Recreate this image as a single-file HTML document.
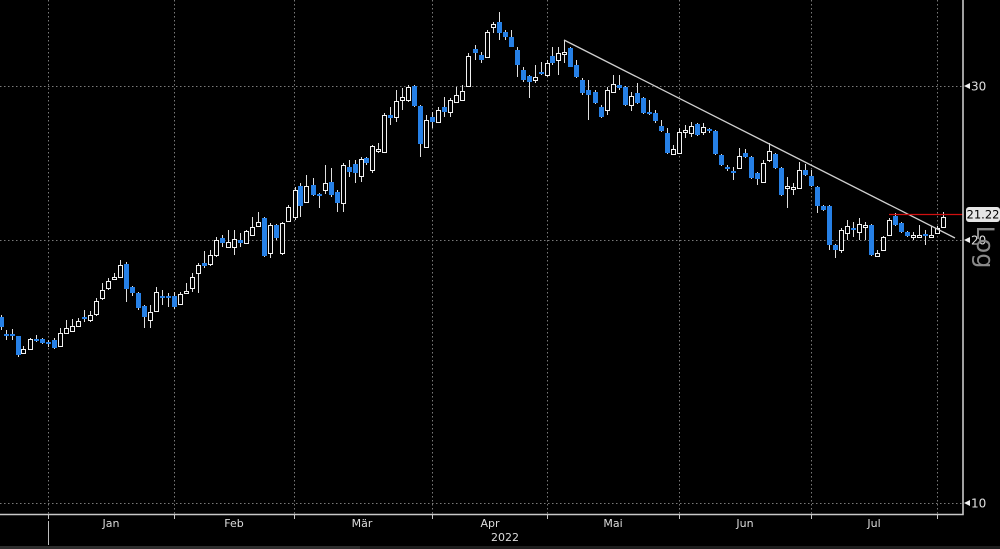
<!DOCTYPE html>
<html><head><meta charset="utf-8"><style>
html,body{margin:0;padding:0;background:#000;}
svg{display:block;}
text{font-family:"DejaVu Sans","Liberation Sans",sans-serif;}
</style></head><body>
<svg width="1000" height="549" viewBox="0 0 1000 549" xmlns="http://www.w3.org/2000/svg">
<rect width="1000" height="549" fill="#000"/>
<g stroke="#7a7a7a" stroke-width="1" stroke-dasharray="1.5 2.5" fill="none">
<path d="M0 86.5H963M0 240.5H963M0 503.5H963"/>
<path d="M48.5 0V514M174.5 0V514M294.5 0V514M432.5 0V514M547.5 0V514M679.5 0V514M811.5 0V514M937.5 0V514"/>
</g>
<g transform="translate(0.5,0)">
<path stroke="#e0e0e0" stroke-width="1" fill="none" d="M1 315V330M6 330V340M12 329V340M18 336V357M23 346V354M30 338V350M36 335V342M42 338V344M48 340V347M54 338V349M60 328V347M66 320V334M72 319V332M78 318V327M84 310V322M90 311V322M96 298V316M102 283V300M108 278V290M114 273V280M120 260V278M126 262V302M132 286V296M138 292V310M144 305V328M150 305V328M156 287V312M162 290V305M168 293V307M174 292V309M180 292V305M186 283V294M192 273V292M198 263V293M204 251V268M210 250V266M216 237V257M222 235V247M228 230V248M234 230V255M240 233V247M246 230V244M252 217V236M258 212V227M264 217V257M270 223V258M276 224V240M282 222V255M288 205V222M295 187V220M300 183V217M306 175V203M313 178V196M319 193V208M325 165V194M331 168V197M337 190V212M343 163V212M349 160V177M355 160V183M361 157V182M366 157V165M372 145V173M378 143V153M384 113V153M390 107V125M396 90V122M402 88V110M408 85V102M414 85V107M420 105V157M426 115V148M432 112V128M438 107V123M444 97V117M450 98V117M456 87V102M462 85V100M468 53V87M475 45V60M481 52V63M487 30V57M493 22V33M499 12V40M505 30V40M511 30V47M517 47V77M523 67V82M529 75V98M535 65V83M541 62V75M547 60V77M552 47V65M558 47V75M564 40V63M570 47V67M576 60V78M582 78V95M588 80V120M595 90V104M601 105V118M607 87V115M613 75V93M619 75V90M625 86V106M631 92V111M637 83V104M643 97V114M649 100V115M655 110V123M661 120V132M667 128V154M673 145V155M679 128V154M685 125V138M691 122V137M697 123V136M703 123V135M709 128V133M715 130V155M721 154V166M727 165V171M733 167V180M739 148V169M745 149V158M751 156V179M757 172V185M763 160V183M769 143V162M775 153V169M781 167V196M787 177V208M793 183V195M799 162V189M805 164V176M811 170V187M817 186V213M823 205V211M829 205V250M835 244V258M841 228V253M847 220V240M853 222V237M859 218V240M865 222V240M871 224V256M877 250V257M883 236V250M889 218V236M895 213V226M901 222V233M907 231V237M913 232V240M919 225V238M925 230V245M931 226V238M937 226V234M943 212V228"/>
<path fill="#2680e6" d="M-1.5 317h5v10h-5zM3.5 334h5v2h-5zM9.5 334h5v2h-5zM15.5 336h5v19h-5zM33.5 339h5v2h-5zM39.5 339h5v4h-5zM45.5 342h5v2h-5zM51.5 340h5v8h-5zM81.5 317h5v2h-5zM123.5 264h5v25h-5zM129.5 287h5v6h-5zM135.5 293h5v15h-5zM141.5 306h5v11h-5zM159.5 296h5v2h-5zM165.5 296h5v2h-5zM171.5 296h5v11h-5zM201.5 263h5v3h-5zM219.5 238h5v5h-5zM237.5 240h5v3h-5zM261.5 218h5v38h-5zM273.5 225h5v13h-5zM297.5 186h5v20h-5zM310.5 185h5v10h-5zM316.5 194h5v2h-5zM328.5 182h5v13h-5zM334.5 192h5v11h-5zM346.5 167h5v5h-5zM352.5 164h5v9h-5zM363.5 158h5v5h-5zM387.5 115h5v3h-5zM411.5 86h5v20h-5zM417.5 106h5v38h-5zM429.5 117h5v5h-5zM441.5 107h5v5h-5zM472.5 49h5v4h-5zM478.5 55h5v5h-5zM496.5 22h5v11h-5zM502.5 32h5v5h-5zM508.5 37h5v10h-5zM514.5 50h5v15h-5zM520.5 70h5v10h-5zM526.5 76h5v6h-5zM538.5 72h5v2h-5zM549.5 56h5v7h-5zM567.5 48h5v19h-5zM573.5 65h5v12h-5zM579.5 80h5v13h-5zM585.5 90h5v5h-5zM592.5 92h5v11h-5zM598.5 107h5v10h-5zM616.5 85h5v3h-5zM622.5 87h5v18h-5zM634.5 93h5v10h-5zM640.5 98h5v15h-5zM646.5 112h5v2h-5zM652.5 113h5v8h-5zM658.5 126h5v5h-5zM664.5 133h5v20h-5zM694.5 124h5v11h-5zM706.5 129h5v2h-5zM712.5 131h5v23h-5zM718.5 155h5v10h-5zM724.5 167h5v2h-5zM730.5 171h5v2h-5zM742.5 153h5v4h-5zM748.5 157h5v21h-5zM754.5 173h5v6h-5zM772.5 154h5v14h-5zM778.5 168h5v27h-5zM802.5 170h5v5h-5zM808.5 176h5v10h-5zM814.5 187h5v19h-5zM820.5 206h5v4h-5zM826.5 206h5v39h-5zM832.5 245h5v5h-5zM850.5 228h5v2h-5zM868.5 225h5v30h-5zM892.5 216h5v9h-5zM898.5 223h5v9h-5zM904.5 232h5v4h-5zM922.5 234h5v2h-5z"/>
</g>
<path transform="translate(0.5,0.5)" fill="#000" stroke="#f2f2f2" stroke-width="1" d="M21 349h4v4h-4zM28 339h4v10h-4zM58 333h4v13h-4zM64 328h4v5h-4zM70 326h4v5h-4zM76 321h4v5h-4zM88 315h4v5h-4zM94 301h4v13h-4zM100 290h4v8h-4zM106 281h4v7h-4zM112 277h4v2h-4zM118 265h4v12h-4zM148 312h4v8h-4zM154 292h4v19h-4zM178 294h4v10h-4zM184 291h4v2h-4zM190 277h4v11h-4zM196 265h4v8h-4zM208 255h4v9h-4zM214 240h4v15h-4zM226 242h4v5h-4zM232 239h4v8h-4zM244 231h4v12h-4zM250 227h4v8h-4zM256 222h4v4h-4zM268 225h4v28h-4zM280 223h4v30h-4zM286 207h4v14h-4zM293 190h4v27h-4zM304 186h4v16h-4zM323 183h4v7h-4zM341 165h4v38h-4zM359 159h4v17h-4zM370 146h4v24h-4zM376 149h4v2h-4zM382 115h4v37h-4zM394 101h4v16h-4zM400 97h4v3h-4zM406 87h4v13h-4zM424 120h4v27h-4zM436 110h4v12h-4zM448 100h4v12h-4zM454 95h4v7h-4zM460 91h4v9h-4zM466 56h4v30h-4zM485 32h4v25h-4zM491 24h4v3h-4zM533 77h4v3h-4zM545 63h4v12h-4zM556 53h4v7h-4zM562 52h4v2h-4zM605 90h4v20h-4zM611 84h4v8h-4zM629 96h4v9h-4zM671 149h4v5h-4zM677 132h4v21h-4zM683 130h4v2h-4zM689 126h4v7h-4zM701 127h4v5h-4zM737 156h4v12h-4zM761 163h4v19h-4zM767 151h4v9h-4zM785 186h4v2h-4zM791 187h4v2h-4zM797 170h4v18h-4zM839 230h4v20h-4zM845 226h4v7h-4zM857 224h4v8h-4zM863 225h4v2h-4zM875 253h4v3h-4zM881 237h4v13h-4zM887 220h4v15h-4zM911 235h4v2h-4zM917 235h4v2h-4zM929 235h4v2h-4zM935 228h4v5h-4zM941 217h4v10h-4z"/>
<line x1="564" y1="40" x2="955" y2="238" stroke="#d0d0d0" stroke-width="1.3"/>
<line x1="889" y1="214.5" x2="963" y2="214.5" stroke="#d01010" stroke-width="1.2"/>
<path d="M963 0V514.5H0" fill="none" stroke="#c8c8c8" stroke-width="1.6"/>
<path d="M174.5 514V519M294.5 514V519M432.5 514V519M547.5 514V519M679.5 514V519M811.5 514V519M937.5 514V519M48.5 514V519" stroke="#c8c8c8" stroke-width="1"/>
<line x1="48.5" y1="521" x2="48.5" y2="545" stroke="#bdbdbd" stroke-width="1"/>
<rect x="0" y="546" width="360" height="3" fill="#2e2e2e"/>
<rect x="360" y="546" width="640" height="3" fill="#1e1e1e"/>
<g fill="#f0f0f0">
<path d="M964 86l6-3v6z"/>
<path d="M964 240l6-3v6z"/>
<path d="M964 503l6-3v6z"/>
</g>
<g fill="#e0e0e0" font-size="12">
<text x="971" y="90.5">30</text>
<text x="971" y="244.5">20</text>
<text x="971" y="507.5">10</text>
</g>
<rect x="966" y="207" width="34" height="15" rx="3" fill="#e6e6e6"/>
<text x="983" y="218.5" font-size="11.5" fill="#000" text-anchor="middle">21.22</text>
<text x="0" y="0" font-size="24" fill="#8a8a8a" text-anchor="middle" transform="translate(977 247) rotate(90)">Log</text>
<g fill="#dcdcdc" font-size="11" text-anchor="middle">
<text x="111" y="527">Jan</text>
<text x="234" y="527">Feb</text>
<text x="362" y="527">Mär</text>
<text x="490" y="527">Apr</text>
<text x="613" y="527">Mai</text>
<text x="745" y="527">Jun</text>
<text x="874" y="527">Jul</text>
<text x="505" y="541">2022</text>
</g>
</svg>
</body></html>
